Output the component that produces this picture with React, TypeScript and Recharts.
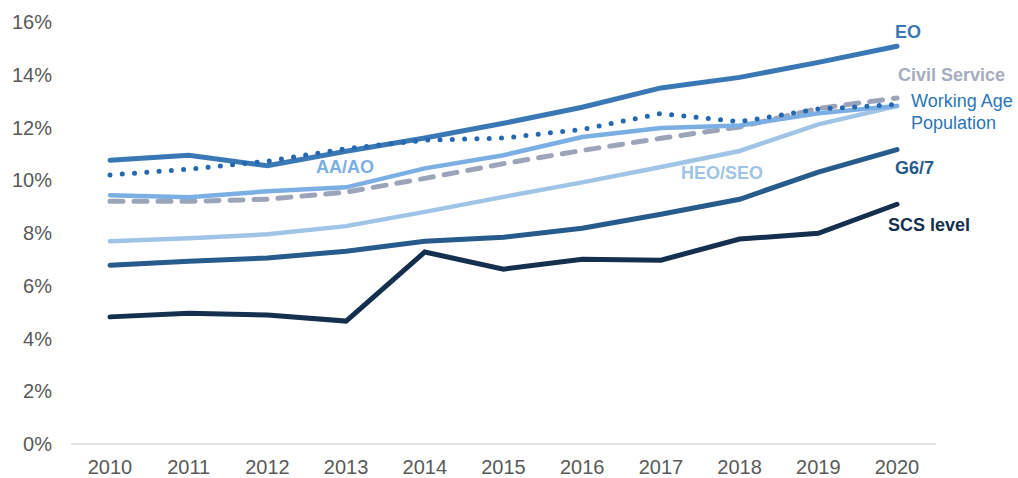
import { CartesianGrid, Line, LineChart, XAxis, YAxis } from 'recharts'

const YEARS = ['2010', '2011', '2012', '2013', '2014', '2015', '2016', '2017', '2018', '2019', '2020']
const EO = [10.76, 10.95, 10.55, 11.1, 11.6, 12.16, 12.77, 13.5, 13.9, 14.47, 15.08]
const WORKING_AGE = [10.2, 10.42, 10.72, 11.2, 11.52, 11.6, 11.93, 12.53, 12.22, 12.7, 12.87]
const AA_AO = [9.43, 9.36, 9.58, 9.73, 10.45, 10.95, 11.64, 11.98, 12.08, 12.54, 12.82]
const CIVIL_SERVICE = [9.2, 9.2, 9.28, 9.55, 10.07, 10.63, 11.13, 11.59, 12.02, 12.72, 13.12]
const HEO_SEO = [7.69, 7.8, 7.95, 8.26, 8.8, 9.37, 9.92, 10.5, 11.11, 12.12, 12.81]
const G6_7 = [6.78, 6.93, 7.05, 7.31, 7.69, 7.84, 8.18, 8.71, 9.28, 10.31, 11.16]
const SCS = [4.82, 4.96, 4.89, 4.66, 7.28, 6.63, 7.0, 6.97, 7.77, 7.99, 9.09]
const Y_TICKS = [0, 2, 4, 6, 8, 10, 12, 14, 16]

const COLORS = {
  eo: '#3a78b5',
  wap: '#2368b1',
  aa: '#7bafe3',
  cs: '#9ca4b9',
  heo: '#9fc4e6',
  g67: '#275b8c',
  scs: '#14304e',
}

const data = YEARS.map((year, i) => ({
  year,
  eo: EO[i],
  wap: WORKING_AGE[i],
  aa: AA_AO[i],
  cs: CIVIL_SERVICE[i],
  heo: HEO_SEO[i],
  g67: G6_7[i],
  scs: SCS[i],
}))

const FONT = '"Liberation Sans", Arial, sans-serif'

// labels placed next to the lines, like the original
const LABELS = [
  { text: 'EO', x: 895, y: 37.5, color: COLORS.eo, bold: true },
  { text: 'Civil Service', x: 898, y: 81, color: '#a5acbe', bold: true },
  { text: 'Working Age', x: 911, y: 107, color: '#2e75b6', bold: false },
  { text: 'Population', x: 911, y: 129, color: '#2e75b6', bold: false },
  { text: 'AA/AO', x: 316, y: 173, color: COLORS.aa, bold: true },
  { text: 'HEO/SEO', x: 681, y: 179, color: COLORS.heo, bold: true },
  { text: 'G6/7', x: 895, y: 174, color: COLORS.g67, bold: true },
  { text: 'SCS level', x: 888, y: 231, color: COLORS.scs, bold: true },
]

export default function App() {
  return (
    <div style={{ position: 'absolute', left: 0, top: 0, width: 1018, height: 478, fontFamily: FONT }}>
      <LineChart width={1018} height={478} data={data} margin={{ top: 22, right: 82, bottom: 0, left: 0 }}>
        <CartesianGrid vertical={false} horizontal={false} />
        <XAxis
          dataKey="year"
          padding={{ left: 39, right: 39 }}
          height={34}
          tickLine={false}
          tickSize={0}
          tickMargin={16}
          axisLine={{ stroke: '#d9d9d9', strokeWidth: 1.5 }}
          tick={{ fill: '#595959', fontSize: 20, fontFamily: FONT }}
          interval={0}
        />
        <YAxis
          width={71}
          domain={[0, 16]}
          ticks={Y_TICKS}
          tickFormatter={(v: number) => `${v}%`}
          axisLine={false}
          tickLine={false}
          tickSize={0}
          tickMargin={19}
          tick={{ fill: '#595959', fontSize: 20, fontFamily: FONT }}
        />
        <Line dataKey="heo" stroke={COLORS.heo} strokeWidth={4.5} dot={false} isAnimationActive={false} strokeLinecap="round" />
        <Line dataKey="cs" stroke={COLORS.cs} strokeWidth={5} strokeDasharray="13 11" dot={false} isAnimationActive={false} strokeLinecap="round" />
        <Line dataKey="aa" stroke={COLORS.aa} strokeWidth={4.5} dot={false} isAnimationActive={false} strokeLinecap="round" />
        <Line dataKey="g67" stroke={COLORS.g67} strokeWidth={5} dot={false} isAnimationActive={false} strokeLinecap="round" />
        <Line dataKey="scs" stroke={COLORS.scs} strokeWidth={5} dot={false} isAnimationActive={false} strokeLinecap="round" />
        <Line dataKey="eo" stroke={COLORS.eo} strokeWidth={5} dot={false} isAnimationActive={false} strokeLinecap="round" />
        <Line dataKey="wap" stroke={COLORS.wap} strokeWidth={5} strokeDasharray="0 12.3" dot={false} isAnimationActive={false} strokeLinecap="round" />
      </LineChart>
      <svg width={1018} height={478} style={{ position: 'absolute', left: 0, top: 0, pointerEvents: 'none' }}>
        {LABELS.map((l) => (
          <text key={l.text} x={l.x} y={l.y} fill={l.color} fontSize={18} fontWeight={l.bold ? 700 : 400} fontFamily={FONT}>
            {l.text}
          </text>
        ))}
      </svg>
    </div>
  )
}
